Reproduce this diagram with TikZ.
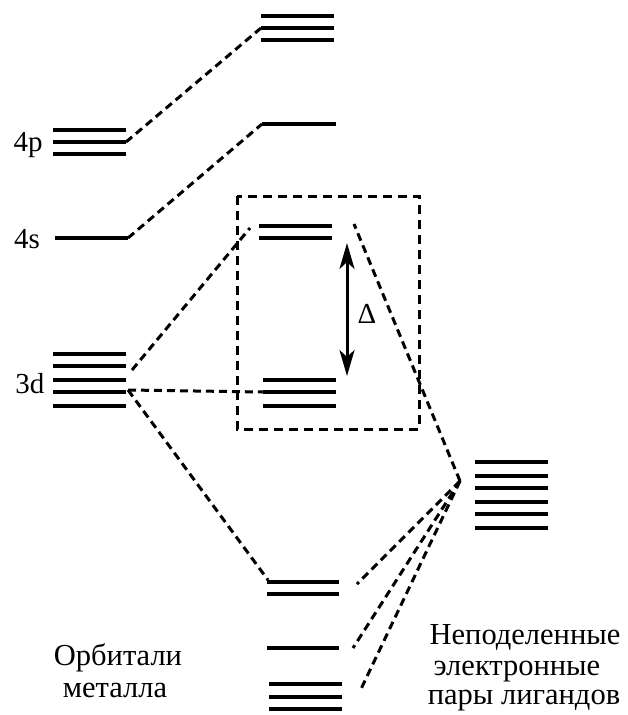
\documentclass[tikz,border=0pt]{standalone}
\usepackage{fontspec}
\setmainfont{Liberation Serif}
\usetikzlibrary{arrows.meta}
\begin{document}
\begin{tikzpicture}[x=1pt,y=-1pt,
  lvl/.style={line width=3.3pt},
  conn/.style={line width=3pt,dash pattern=on 8pt off 5pt},
  boxline/.style={line width=3pt,dash pattern=on 9pt off 6pt},
  lab/.style={font=\fontsize{29}{30}\selectfont,anchor=base,inner sep=0pt},
  cyr/.style={font=\fontsize{30.5}{30}\selectfont,anchor=base,inner sep=0pt}]
\useasboundingbox (0,0) rectangle (628,715);
% metal levels
\foreach \y in {130,142,154} \draw[lvl] (53,\y) -- (126,\y);
\draw[lvl] (55,238) -- (128,238);
\foreach \y in {354,366,380,392,406} \draw[lvl] (53,\y) -- (126,\y);
% MO levels
\foreach \y in {16,28,40} \draw[lvl] (261,\y) -- (334,\y);
\draw[lvl] (262,124) -- (336,124);
\foreach \y in {226,238} \draw[lvl] (259,\y) -- (332,\y);
\foreach \y in {380,392,406} \draw[lvl] (263,\y) -- (336,\y);
\foreach \y in {582,594} \draw[lvl] (267,\y) -- (339,\y);
\draw[lvl] (267,648) -- (339,648);
\foreach \y in {684,697,709} \draw[lvl] (269,\y) -- (342,\y);
% ligand levels
\foreach \y in {462,476,488,502,514,528} \draw[lvl] (475,\y) -- (548,\y);
% connection points
\coordinate (p4) at (126,142);
\coordinate (p4mo) at (261,28);
\coordinate (s4) at (128,238);
\coordinate (s4mo) at (262,124);
\coordinate (d3up) at (132,370);
\coordinate (d3mid) at (128,390);
\coordinate (eg) at (250,228);
\coordinate (egR) at (354,224);
\coordinate (t2g) at (263,392);
\coordinate (bond) at (268,580);
\coordinate (lig) at (460,481);
\coordinate (b1) at (357,584);
\coordinate (b2) at (353,648);
\coordinate (b3) at (361,689);
% connectors
\draw[conn] (p4) -- (p4mo);
\draw[conn] (s4) -- (s4mo);
\draw[conn] (d3up) -- (eg);
\draw[conn] (d3mid) -- (t2g);
\draw[conn] (d3mid) -- (bond);
\draw[conn] (lig) -- (egR);
\draw[conn] (lig) -- (b1);
\draw[conn] (lig) -- (b2);
\draw[conn] (lig) -- (b3);
% box
\draw[boxline] (237,196) rectangle (419,429);
% Delta arrow
\coordinate (dtop) at (347,243);
\coordinate (dbot) at (347,376);
\draw[line width=3pt,{Stealth[length=26pt,width=15pt,inset=7pt]}-{Stealth[length=26pt,width=15pt,inset=7pt]}] (dtop) -- (dbot);
\node[lab] (delta) at (367,323) {Δ};
% labels
\node[lab] (l4p) at (28,151) {4p};
\node[lab] (l4s) at (27,248) {4s};
\node[lab] (l3d) at (30,393) {3d};
\node[cyr] (m1) at (118,665) {Орбитали};
\node[cyr] (m2) at (115,697) {металла};
\node[cyr] (g1) at (525,644) {Неподеленные};
\node[cyr] (g2) at (517,675) {электронные};
\node[cyr] (g3) at (524,704) {пары лигандов};
\end{tikzpicture}
\end{document}
